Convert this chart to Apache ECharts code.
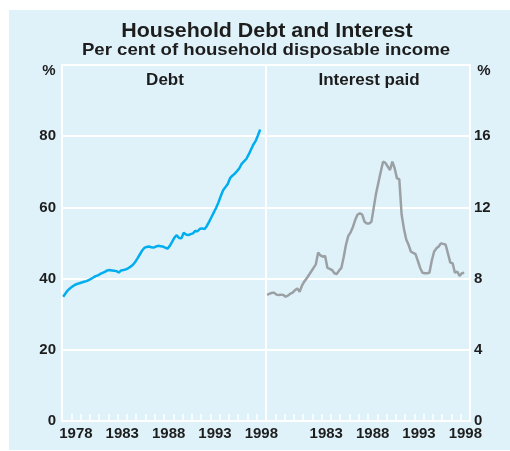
<!DOCTYPE html>
<html>
<head>
<meta charset="utf-8">
<script src="https://cdn.jsdelivr.net/npm/echarts@6/dist/echarts.min.js"></script>
<style>
  html, body { margin: 0; padding: 0; background: #fff; }
  #chart { width: 510px; height: 451px; }
</style>
</head>
<body>
<div id="chart"></div>
<script>
// quarterly data, first quarter 1977
const startYear = 1977
const debt = [
  34.9, 35.8, 36.7, 37.3,
  37.8, 38.2, 38.5, 38.7,
  38.9, 39.1, 39.3, 39.6,
  39.9, 40.3, 40.7, 40.9,
  41.3, 41.6, 41.9, 42.3,
  42.4, 42.3, 42.2, 42.1,
  41.7, 42.3, 42.4, 42.6,
  42.9, 43.3, 43.8, 44.6,
  45.6, 46.7, 47.8, 48.6,
  48.9, 49.0, 48.8, 48.7,
  49.0, 49.2, 49.1, 49.0,
  48.7, 48.4, 49.2, 50.3,
  51.5, 52.2, 51.4, 51.3,
  52.9, 52.4, 52.2, 52.5,
  52.7, 53.4, 53.3, 54.0,
  54.1, 53.9, 54.8, 56.0,
  57.3, 58.6, 59.9, 61.4,
  63.2, 64.8, 65.7, 66.6,
  68.2, 68.9, 69.5, 70.2,
  71.0, 72.2, 72.9, 73.6,
  74.8, 76.2, 77.6, 78.6,
  80.2, 81.9
]
const interest = [
  7.08, 7.15, 7.2, 7.21,
  7.1, 7.08, 7.1, 7.08,
  6.98, 7.05, 7.15, 7.21,
  7.35, 7.45, 7.26, 7.6,
  7.83, 8.0, 8.2, 8.4,
  8.6, 8.8, 9.46, 9.3,
  9.23, 9.27, 8.6, 8.55,
  8.48, 8.3, 8.26, 8.45,
  8.6, 9.2, 9.9, 10.4,
  10.6, 10.9, 11.3, 11.6,
  11.67, 11.6, 11.2, 11.1,
  11.1, 11.2, 12.0, 12.8,
  13.4, 14.0, 14.57, 14.5,
  14.3, 14.1, 14.57, 14.2,
  13.63, 13.58, 11.6, 10.8,
  10.2, 9.9, 9.51, 9.45,
  9.38, 9.0, 8.6, 8.33,
  8.3, 8.3, 8.33, 9.0,
  9.51, 9.7, 9.8, 9.98,
  9.95, 9.9, 9.4, 8.9,
  8.86, 8.33, 8.39, 8.15,
  8.3, 8.33
]
const debtTicks = [0, 20, 40, 60, 80]
const interestTicks = [0, 4, 8, 12, 16]
const leftYearLabels = [1978, 1983, 1988, 1993, 1998]
const rightYearLabels = [1983, 1988, 1993, 1998]

const font = 'Liberation Sans, Arial, sans-serif'
const textColor = '#1d1d1d'

function toPoints(values) {
  return values.map((v, i) => [startYear + 0.125 + i * 0.25, v])
}

function yearTicks() {
  const arr = []
  for (let y = 1978; y <= 1998; y++) arr.push(y)
  return arr
}

function xAxisFor(gridIndex, labels) {
  return {
    type: 'value',
    gridIndex: gridIndex,
    min: 1977,
    max: 1999,
    axisLine: { show: true, lineStyle: { color: '#fff', width: 2 } },
    axisTick: {
      show: true,
      inside: true,
      length: 7,
      customValues: yearTicks(),
      lineStyle: { color: '#fff', width: 1.5 }
    },
    axisLabel: {
      show: true,
      customValues: labels.map(y => y + 0.5), // labels centred in the year
      formatter: v => String(Math.floor(v)),
      margin: 5,
      color: textColor,
      fontSize: 15,
      fontWeight: 'bold',
      fontFamily: font
    },
    splitLine: { show: false }
  }
}

function yAxisFor(gridIndex, max, ticks, position) {
  return {
    type: 'value',
    gridIndex: gridIndex,
    position: position,
    min: 0,
    max: max,
    interval: max / 5,
    axisLine: { show: false },
    axisTick: { show: false },
    axisLabel: {
      customValues: ticks,
      margin: position === 'left' ? 6 : 4,
      color: textColor,
      fontSize: 15,
      fontWeight: 'bold',
      fontFamily: font
    },
    splitLine: { show: true, lineStyle: { color: '#fff', width: 2 } }
  }
}

function label(text, x, y, size, scaleX) {
  return {
    type: 'text',
    x: x,
    y: y,
    scaleX: scaleX || 1,
    style: {
      text: text,
      font: 'bold ' + size + 'px ' + font,
      fill: textColor,
      align: 'center',
      verticalAlign: 'middle'
    }
  }
}

const chart = echarts.init(document.getElementById('chart'))
const option = {
  animation: false,
  backgroundColor: '#fff',
  graphic: [
    {
      type: 'rect',
      z: -10,
      shape: { x: 9, y: 10, width: 501, height: 440 },
      style: { fill: '#DFF2FA' }
    },
    label('Household Debt and Interest', 267, 31, 20, 1.07),
    label('Per cent of household disposable income', 266, 50, 17, 1.095),
    label('%', 49, 71, 15),
    label('%', 484, 71, 15),
    label('Debt', 165, 80, 17),
    label('Interest paid', 369, 80, 17)
  ],
  grid: [
    { left: 62, top: 65, width: 204, height: 356, show: true, borderColor: '#fff', borderWidth: 2 },
    { left: 266, top: 65, width: 204, height: 356, show: true, borderColor: '#fff', borderWidth: 2 }
  ],
  xAxis: [
    xAxisFor(0, leftYearLabels),
    xAxisFor(1, rightYearLabels)
  ],
  yAxis: [
    yAxisFor(0, 100, debtTicks, 'left'),
    yAxisFor(1, 20, interestTicks, 'right')
  ],
  series: [
    {
      name: 'Debt',
      type: 'line',
      xAxisIndex: 0,
      yAxisIndex: 0,
      data: toPoints(debt),
      showSymbol: false,
      lineStyle: { color: '#00AEEF', width: 2.5 }
    },
    {
      name: 'Interest paid',
      type: 'line',
      xAxisIndex: 1,
      yAxisIndex: 1,
      data: toPoints(interest),
      showSymbol: false,
      lineStyle: { color: '#9AA0A4', width: 2.5 }
    }
  ]
}
chart.setOption(option)
</script>
</body>
</html>
